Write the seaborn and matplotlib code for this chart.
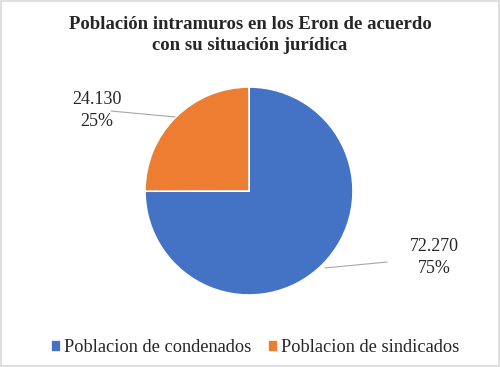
import matplotlib
matplotlib.use("Agg")
import matplotlib.pyplot as plt
import seaborn as sns
from matplotlib.patches import Rectangle

# data
categories = ["Poblacion de condenados", "Poblacion de sindicados"]
values = [72270, 24130]
colors = ["#4472C4", "#ED7D31"]
title = "Población intramuros en los Eron de acuerdo\ncon su situación jurídica"

sns.set_style("white")
plt.rcParams["font.family"] = ["Liberation Serif", "DejaVu Serif"]

fig = plt.figure(figsize=(5, 3.67), dpi=100)
fig.patch.set_facecolor("white")

# pie axes: center ~ (249,191) px, radius ~104 px
cx, cy, r = 249, 191, 104
ax = fig.add_axes([(cx - r) / 500, (367 - cy - r) / 367, 2 * r / 500, 2 * r / 367])
wedges, _ = ax.pie(values, colors=colors, startangle=90, counterclock=False,
                   wedgeprops=dict(edgecolor="white", linewidth=1.2), radius=1)
ax.set_xlim(-1, 1)
ax.set_ylim(-1, 1)
ax.set_aspect("auto")
ax.axis("off")

total = sum(values)
def lbl(v):
    return f"{v:,}".replace(",", ".") + f"\n{round(v / total * 100)}%"

# data labels with leader lines
ax.text(-1.46, 0.774, lbl(values[1]), ha="center", va="center",
        fontsize=13, linespacing=1.4, clip_on=False)
ax.plot([-1.327, -0.712], [0.769, 0.712], color="#A6A6A6", lw=0.8, clip_on=False)
ax.text(1.78, -0.64, lbl(values[0]), ha="center", va="center",
        fontsize=13, linespacing=1.4, clip_on=False)
ax.plot([0.731, 1.327], [-0.740, -0.683], color="#A6A6A6", lw=0.8, clip_on=False)

fig.text(0.5, 1 - 35 / 367, title, ha="center", va="center",
         fontsize=13.5, fontweight="bold", linespacing=1.35)

fig.legend(wedges, categories, loc="center", bbox_to_anchor=(0.51, 1 - 348 / 367),
           ncol=2, frameon=False, fontsize=13.2, handlelength=0.55, handleheight=0.55,
           handletextpad=0.15, columnspacing=0.9)

fig.add_artist(Rectangle((0.002, 0.003), 0.995, 0.994, transform=fig.transFigure,
                         fill=False, edgecolor="#D9D9D9", lw=1.2))

fig.savefig("out.png", dpi=100)
